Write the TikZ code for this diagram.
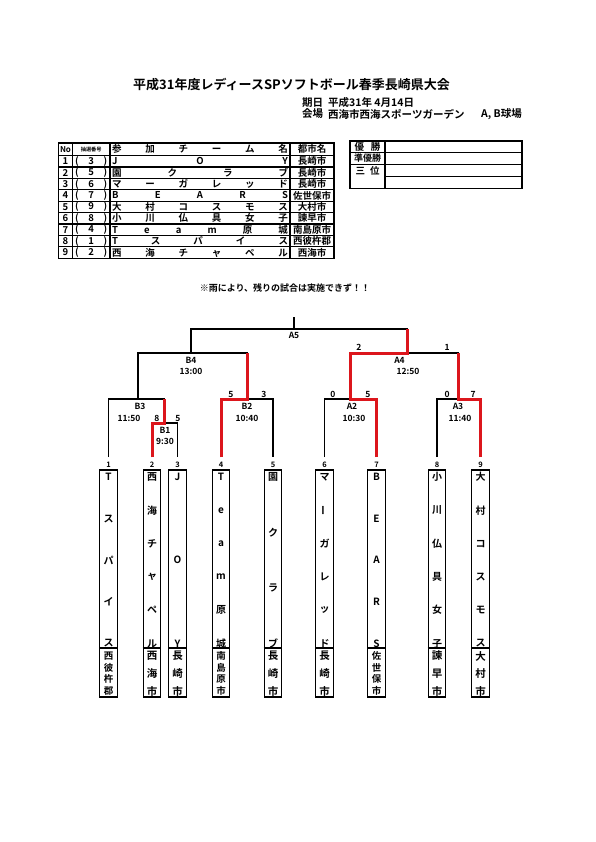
\documentclass[tikz,border=0pt]{standalone}
\usepackage{fontspec}
\setmainfont{Noto Sans CJK JP}[UprightFont=* Bold]
\definecolor{wred}{RGB}{220,22,28}
\newcommand\fs[1]{\fontsize{#1}{#1}\selectfont}
\newcommand\vbar{\rotatebox[origin=c]{90}{ー}}
\tikzset{
  bl/.style={line width=1.3pt, line join=miter},
  rd/.style={line width=3pt, draw=wred, line join=miter},
  tl/.style={line width=1.2pt},
  lbl/.style={inner sep=0pt, font=\fs{8.5}},
  numlbl/.style={inner sep=0pt, font=\fs{7.5}},
  cell/.style={inner sep=0pt, font=\fs{9.5}},
  vch/.style={inner sep=0pt, font=\fs{10}},
  cch/.style={inner sep=0pt, font=\fs{10.5}},
  cchs/.style={inner sep=0pt, font=\fs{9.5}},
  sub/.style={inner sep=0pt, anchor=west, font=\fs{10.5}},
  teambox/.style={draw, line width=1.3pt, minimum width=17.5pt, minimum height=227pt, inner sep=0pt},
}
\begin{document}
\begin{tikzpicture}[x=1pt,y=-1pt]
\useasboundingbox (0,0) rectangle (595,842);
\fill[white] (0,0) rectangle (595,842);

% title
\node[inner sep=0pt, font=\fs{13}] (title) at (291.5,85) {平成31年度レディースSPソフトボール春季長崎県大会};
\node[sub] (datek) at (302,103) {期日};
\node[sub] (date) at (328,103) {平成31年 4月14日};
\node[sub] (venuek) at (302,114) {会場};
\node[sub] (venue) at (328,114) {西海市西海スポーツガーデン};
\node[sub] (venue2) at (481,114) {A, B球場};

% left table
\draw[tl] (58.5,143) rectangle (334,258.3);
\foreach \xx in {72.5,110,290} \draw[tl] (\xx,143) -- (\xx,258.3);
\draw[tl] (58.5,155.5) -- (334,155.5);
\foreach \i in {1,...,8} \draw[tl] (58.5,{155.5+11.42*\i}) -- (334,{155.5+11.42*\i});
\node[cell, font=\fs{8}] (hno) at (65.5,149.3) {No};
\node[cell, font=\fs{5.2}] (hlot) at (91.2,149.3) {抽選番号};
\node[cell] (hteam) at (200,149.3) {\hbox to 176pt{参\hfill 加\hfill チ\hfill ー\hfill ム\hfill 名}};
\node[cell] (hcity) at (312,149.3) {都市名};
\foreach \r/\lot/\tm/\ct in {
  1/3/{J\hfill O\hfill Y}/長崎市,
  2/5/{園\hfill ク\hfill ラ\hfill ブ}/長崎市,
  3/6/{マ\hfill ー\hfill ガ\hfill レ\hfill ッ\hfill ド}/長崎市,
  4/7/{B\hfill E\hfill A\hfill R\hfill S}/佐世保市,
  5/9/{大\hfill 村\hfill コ\hfill ス\hfill モ\hfill ス}/大村市,
  6/8/{小\hfill 川\hfill 仏\hfill 具\hfill 女\hfill 子}/諫早市,
  7/4/{T\hfill e\hfill a\hfill m\hfill 原\hfill 城}/南島原市,
  8/1/{T\hfill ス\hfill パ\hfill イ\hfill ス}/西彼杵郡,
  9/2/{西\hfill 海\hfill チ\hfill ャ\hfill ペ\hfill ル}/西海市}
{
  \node[cell] (rno\r) at (65.5,{155.5+11.42*(\r-0.5)}) {\r};
  \node[cell] (rlot\r) at (91.2,{155.5+11.42*(\r-0.5)}) {\hbox to 32pt{(\hfill\lot\hfill)}};
  \node[cell] (rteam\r) at (200,{155.5+11.42*(\r-0.5)}) {\hbox to 176pt{\tm}};
  \node[cell] (rcity\r) at (312,{155.5+11.42*(\r-0.5)}) {\ct};
}

% right table
\draw[tl] (350,141) rectangle (522,188.3);
\draw[tl] (385,141) -- (385,188.3);
\draw[line width=1.8pt] (350,152.5) -- (522,152.5);
\draw[tl] (350,164.3) -- (522,164.3);
\draw[tl] (385,176.5) -- (522,176.5);
\node[cell] (win) at (367.5,146.8) {\hbox to 26pt{優\hfill 勝}};
\node[cell, font=\fs{9}] (second) at (367.5,158.4) {準優勝};
\node[cell] (third) at (367.5,170.4) {\hbox to 24pt{三\hfill 位}};

% notice
\node[inner sep=0pt, font=\fs{9}] (notice) at (285,288) {※雨により、残りの試合は実施できず！！};

% bracket coordinates
\coordinate (s1) at (108.5,457); \coordinate (s2) at (152,457); \coordinate (s3) at (177.5,457);
\coordinate (s4) at (221,457);   \coordinate (s5) at (273,457); \coordinate (s6) at (324.5,457);
\coordinate (s7) at (376.5,457); \coordinate (s8) at (437,457); \coordinate (s9) at (480.5,457);
\coordinate (b1L) at (152,423); \coordinate (b1R) at (177.5,423); \coordinate (b1C) at (164,423);
\coordinate (b3L) at (108.5,399); \coordinate (b3R) at (164,399); \coordinate (b3C) at (138,399);
\coordinate (b2L) at (221,399); \coordinate (b2R) at (273,399); \coordinate (b2C) at (247,399);
\coordinate (b4L) at (138,353); \coordinate (b4R) at (247,353); \coordinate (b4C) at (191,353);
\coordinate (a5L) at (191,329); \coordinate (a5R) at (407,329); \coordinate (a5C) at (294,329); \coordinate (a5T) at (294,317);
\coordinate (a4L) at (350,353); \coordinate (a4R) at (458,353); \coordinate (a4C) at (407,353);
\coordinate (a2L) at (324.5,399); \coordinate (a2R) at (376.5,399); \coordinate (a2C) at (350,399);
\coordinate (a3L) at (437,399); \coordinate (a3R) at (480.5,399); \coordinate (a3C) at (458,399);

% black lines
\draw[bl] (s1) -- (b3L) -- (b3R) -- (b1C);
\draw[bl] (b3C) -- (b4L) -- (b4R) -- (b2C);
\draw[bl] (s2) -- (b1L) -- (b1R) -- (s3);
\draw[bl] (s4) -- (b2L) -- (b2R) -- (s5);
\draw[bl] (b4C) -- (a5L) -- (a5R) -- (a4C);
\draw[bl] (a5C) -- (a5T);
\draw[bl] (a2C) -- (a4L) -- (a4R) -- (a3C);
\draw[bl] (s6) -- (a2L) -- (a2R) -- (s7);
\draw[bl] (s8) -- (a3L) -- (a3R) -- (s9);
% red winners
\draw[rd] (s2) -- (b1L) -- (b1C) -- (b3R);
\draw[rd] (s4) -- (b2L) -- (b2C) -- (b4R);
\draw[rd] (s7) -- (a2R) -- (a2C) -- (a4L) -- (a4C) -- (a5R);
\draw[rd] (s9) -- (a3R) -- (a3C) -- (a4R);

% match labels
\node[lbl] (lA5) at (294,335) {A5};
\node[lbl] (lB4) at (191,360) {B4};  \node[lbl] (tB4) at (191,371) {13:00};
\node[lbl] (lA4) at (399.5,360) {A4};  \node[lbl] (tA4) at (408,371) {12:50};
\node[lbl] (lB3) at (140,406) {B3};  \node[lbl] (tB3) at (129,418) {11:50};
\node[lbl] (lB1) at (165,430) {B1};  \node[lbl] (tB1) at (165,441) {9:30};
\node[lbl] (lB2) at (247,406) {B2};  \node[lbl] (tB2) at (247,418) {10:40};
\node[lbl] (lA2) at (352,406) {A2};  \node[lbl] (tA2) at (354,418) {10:30};
\node[lbl] (lA3) at (458,406) {A3};  \node[lbl] (tA3) at (460,418) {11:40};
% scores
\node[lbl] (sc1) at (157,418) {8}; \node[lbl] (sc2) at (178,418) {5};
\node[lbl] (sc3) at (231,394) {5}; \node[lbl] (sc4) at (264,394) {3};
\node[lbl] (sc5) at (359,347) {2}; \node[lbl] (sc6) at (447,347) {1};
\node[lbl] (sc7) at (333,394) {0}; \node[lbl] (sc8) at (368,394) {5};
\node[lbl] (sc9) at (447,394) {0}; \node[lbl] (sc10) at (473,394) {7};

% team boxes
\foreach \n/\x/\nm/\ct in {
 1/108.5/{T,ス,パ,イ,ス}/{西,彼,杵,郡},
 2/152/{西,海,チ,ャ,ペ,ル}/{西,海,市},
 3/177.5/{J,O,Y}/{長,崎,市},
 4/221/{T,e,a,m,原,城}/{南,島,原,市},
 5/273/{園,ク,ラ,ブ}/{長,崎,市},
 6/324.5/{マ,\vbar,ガ,レ,ッ,ド}/{長,崎,市},
 7/376.5/{B,E,A,R,S}/{佐,世,保,市},
 8/437/{小,川,仏,具,女,子}/{諫,早,市},
 9/480.5/{大,村,コ,ス,モ,ス}/{大,村,市}}
{
  \node[teambox] (box\n) at (\x,583.5) {};
  \draw[bl] (box\n.west |- 0,648) -- (box\n.east |- 0,648);
  \node[numlbl] (num\n) at (\x,464.5) {\n};
  \foreach \c [count=\k] in \nm {\xdef\tot{\k}}
  \foreach \c [count=\k] in \nm {\node[vch] at (\x,{477+(\k-1)*166.5/(\tot-1)}) {\c};}
  \foreach \c [count=\k] in \ct {\xdef\ctot{\k}}
  \ifnum\ctot>3
    \foreach \c [count=\k] in \ct {\node[cchs] at (\x,{656+(\k-1)*35/(\ctot-1)}) {\c};}
  \else
    \foreach \c [count=\k] in \ct {\node[cch] at (\x,{656+(\k-1)*35/(\ctot-1)}) {\c};}
  \fi
}
\end{tikzpicture}
\end{document}
